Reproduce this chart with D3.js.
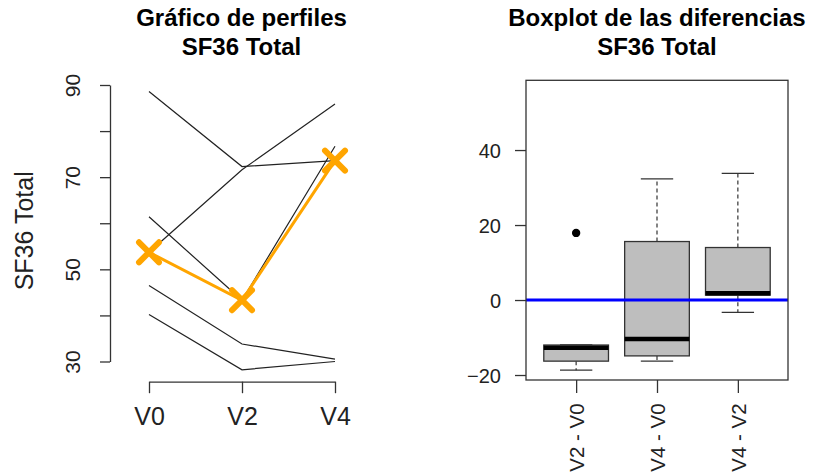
<!DOCTYPE html>
<html>
<head>
<meta charset="utf-8">
<script src="https://cdn.jsdelivr.net/npm/d3@7"></script>
<style>
  body { margin: 0; background: #fff; }
  svg { display: block; font-family: "Liberation Sans", Arial, sans-serif; }
</style>
</head>
<body>
<div id="chart"></div>
<script>
// profile data (SF36 Total per visit, one row per subject)
const visits = ["V0", "V2", "V4"];
const profiles = [
  [53.7, 71.6, 85.9],
  [88.6, 72.3, 73.6],
  [61.4, 43.3, 76.7],
  [46.5, 33.8, 30.5],
  [40.2, 28.2, 30.0]
];
const profileTicks = [30, 40, 50, 60, 70, 80, 90];
const profileLabels = [30, 50, 70, 90];

// boxplot of the differences
const diffLabels = ["V2 - V0", "V4 - V0", "V4 - V2"];
const whiskerLow = [-18.7, -16.3, -3.3];
const hingeLow = [-16.3, -14.9, 1.3];
const medians = [-12.7, -10.4, 1.8];
const hingeHigh = [-12.0, 15.6, 14.0];
const whiskerHigh = [-12.0, 32.3, 33.8];
const outliers = [[17.9], [], []];
const diffTicks = [-20, 0, 20, 40];

const W = 814, H = 475;
const svg = d3.select("#chart").append("svg")
  .attr("width", W)
  .attr("height", H);
svg.append("rect").attr("width", W).attr("height", H).attr("fill", "#fff");

const axisColor = "#333";

function title(cx, lines) {
  const t = svg.append("g").attr("font-weight", "bold").attr("font-size", 24)
    .attr("text-anchor", "middle").attr("fill", "#000");
  lines.forEach((s, i) => t.append("text").attr("x", cx).attr("y", 26 + i * 29).text(s));
}

// ---------- left: profiles ----------
const xL = d3.scalePoint().domain(visits).range([149, 335]);
const yL = d3.scaleLinear().domain([30, 90]).range([361.5, 85]);

title(241.5, ["Gráfico de perfiles", "SF36 Total"]);

const gyL = svg.append("g")
  .attr("transform", "translate(110,0)")
  .call(d3.axisLeft(yL).tickValues(profileTicks).tickSize(10).tickSizeOuter(0)
    .tickFormat(d => profileLabels.includes(d) ? d : ""));
gyL.selectAll("path, line").attr("stroke", axisColor).attr("stroke-width", 1.3);
gyL.selectAll("text")
  .attr("font-size", 21).attr("fill", "#222").attr("font-family", null)
  .attr("transform", "rotate(-90)")
  .attr("x", 0).attr("y", -30).attr("dy", 0)
  .attr("text-anchor", "middle");

const gxL = svg.append("g")
  .attr("transform", "translate(0,381.7)")
  .call(d3.axisBottom(xL).tickSize(11.5).tickSizeOuter(0));
gxL.selectAll("path, line").attr("stroke", axisColor).attr("stroke-width", 1.3);
gxL.selectAll("text")
  .attr("font-size", 25).attr("fill", "#222").attr("font-family", null)
  .attr("y", 43.3).attr("dy", 0);

svg.append("text")
  .attr("transform", "translate(33,230.8) rotate(-90)")
  .attr("text-anchor", "middle")
  .attr("font-size", 25).attr("fill", "#222")
  .text("SF36 Total");

const line = d3.line().x((d, i) => xL(visits[i])).y(d => yL(d));

svg.append("g").selectAll("path")
  .data(profiles)
  .join("path")
  .attr("d", line)
  .attr("fill", "none")
  .attr("stroke", "#222")
  .attr("stroke-width", 1.2);

const medianProfile = visits.map((v, i) => d3.median(profiles, p => p[i]));
const orange = "#FFA500";
svg.append("path")
  .attr("d", line(medianProfile))
  .attr("fill", "none")
  .attr("stroke", orange)
  .attr("stroke-width", 3);

const cross = d3.symbol().type(d3.symbolTimes).size(420);
svg.append("g").selectAll("path")
  .data(medianProfile)
  .join("path")
  .attr("transform", (d, i) => `translate(${xL(visits[i])},${yL(d)})`)
  .attr("d", (d, i) => {
    const s = 10;
    return `M${-s},${-s}L${s},${s}M${-s},${s}L${s},${-s}`;
  })
  .attr("stroke", orange)
  .attr("stroke-width", 6)
  .attr("stroke-linecap", "round")
  .attr("fill", "none");

// ---------- right: boxplot ----------
const xR = d3.scaleLinear().domain([0.38, 3.62]).range([526, 788]);
const yR = d3.scaleLinear().domain([-21.33, 58.6]).range([380, 80.3]);

title(657, ["Boxplot de las diferencias", "SF36 Total"]);

const boxW = 0.4, capW = 0.2;
const boxes = svg.append("g");
diffLabels.forEach((lab, i) => {
  const c = i + 1;
  const g = boxes.append("g");
  // whiskers
  [[hingeHigh[i], whiskerHigh[i]], [hingeLow[i], whiskerLow[i]]].forEach(([a, b]) => {
    g.append("line")
      .attr("x1", xR(c)).attr("x2", xR(c))
      .attr("y1", yR(a)).attr("y2", yR(b))
      .attr("stroke", axisColor).attr("stroke-width", 1.2)
      .attr("stroke-dasharray", "4,3");
    g.append("line")
      .attr("x1", xR(c - capW)).attr("x2", xR(c + capW))
      .attr("y1", yR(b)).attr("y2", yR(b))
      .attr("stroke", axisColor).attr("stroke-width", 1.3);
  });
  g.append("rect")
    .attr("x", xR(c - boxW))
    .attr("width", xR(c + boxW) - xR(c - boxW))
    .attr("y", yR(hingeHigh[i]))
    .attr("height", yR(hingeLow[i]) - yR(hingeHigh[i]))
    .attr("fill", "#BEBEBE")
    .attr("stroke", axisColor)
    .attr("stroke-width", 1.3);
  g.append("line")
    .attr("x1", xR(c - boxW)).attr("x2", xR(c + boxW))
    .attr("y1", yR(medians[i])).attr("y2", yR(medians[i]))
    .attr("stroke", "#000").attr("stroke-width", 4.5);
  g.selectAll("circle")
    .data(outliers[i])
    .join("circle")
    .attr("cx", xR(c)).attr("cy", d => yR(d)).attr("r", 4.2)
    .attr("fill", "#000");
});

svg.append("line")
  .attr("x1", xR(0.38)).attr("x2", xR(3.62))
  .attr("y1", yR(0)).attr("y2", yR(0))
  .attr("stroke", "#0000FF").attr("stroke-width", 3);

svg.append("rect")
  .attr("x", 526).attr("y", 80.3)
  .attr("width", 788 - 526).attr("height", 380 - 80.3)
  .attr("fill", "none")
  .attr("stroke", axisColor).attr("stroke-width", 1.3);

const gyR = svg.append("g")
  .attr("transform", "translate(526,0)")
  .call(d3.axisLeft(yR).tickValues(diffTicks).tickSize(11).tickSizeOuter(0));
gyR.select(".domain").remove();
gyR.selectAll("line").attr("stroke", axisColor).attr("stroke-width", 1.3);
gyR.selectAll("text")
  .attr("font-size", 20).attr("fill", "#222").attr("font-family", null)
  .attr("x", -25).attr("dy", "0.36em");

const gxR = svg.append("g")
  .attr("transform", "translate(0,380)")
  .call(d3.axisBottom(xR).tickValues([1, 2, 3]).tickSize(13).tickSizeOuter(0)
    .tickFormat(d => diffLabels[d - 1]));
gxR.select(".domain").remove();
gxR.selectAll("line").attr("stroke", axisColor).attr("stroke-width", 1.3);
gxR.selectAll("text")
  .attr("font-size", 20.5).attr("fill", "#222").attr("font-family", null)
  .attr("transform", "rotate(-90)")
  .attr("x", -23.3).attr("y", 0).attr("dy", "0.35em")
  .attr("text-anchor", "end");
</script>
</body>
</html>
